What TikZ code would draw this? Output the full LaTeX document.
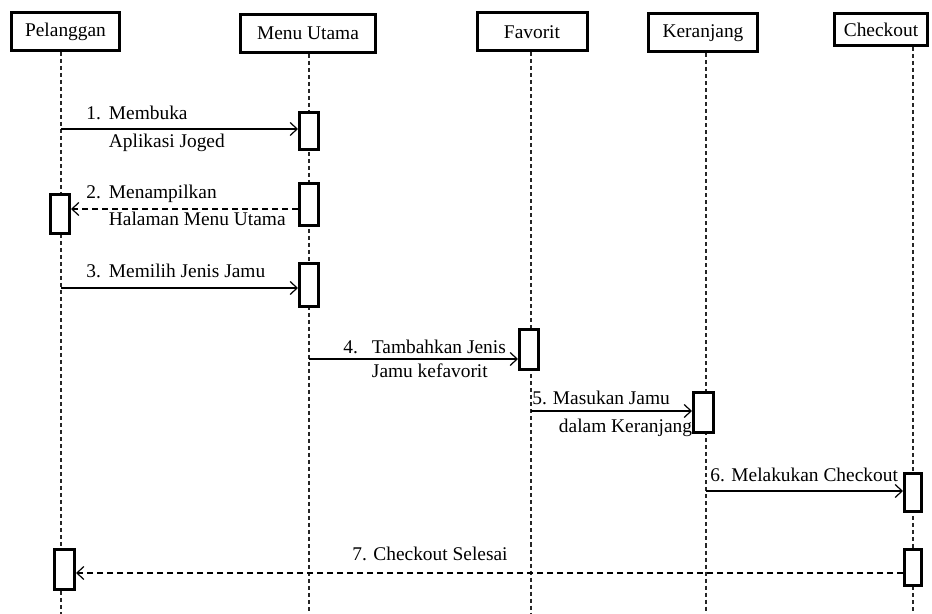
\documentclass[tikz,border=0pt]{standalone}
\usepackage{fontspec}
\setmainfont{Liberation Serif}
\usetikzlibrary{arrows.meta,positioning}
\tikzset{object head/.style={draw, line width=1.5pt, minimum height=19pt,
    inner sep=0pt, font=\fontsize{9.7}{11.6}\selectfont}}
\tikzset{activation/.style={draw, fill=white, line width=1.5pt,
    minimum width=9.5pt, minimum height=#1, inner sep=0pt}}
\tikzset{lifeline/.style={draw=black!85, line width=0.6pt, dash pattern=on 2pt off 1.5pt}}
\tikzset{call/.style={draw, line width=0.6pt, -{Straight Barb[length=3.5pt,width=6.5pt]}}}
\tikzset{reply/.style={call, dash pattern=on 3pt off 2pt}}
\tikzset{msg label/.style={anchor=base west, inner sep=0pt, font=\fontsize{9.7}{#1}\selectfont}}
\newcommand{\steptext}[3][4pt]{\begin{tabular}[t]{@{}l@{\hspace{#1}}l@{}}#2 & #3\end{tabular}}

\begin{document}
\begin{tikzpicture}[x=0.5pt, y=-0.5pt]
  \useasboundingbox (0,0) rectangle (932,614);

  % objects
  \node [object head, minimum width=54pt]   (pel) at ( 65.5, 31.5) {Pelanggan};
  \node [object head, minimum width=67.5pt] (mu)  at (308,   33.5) {Menu Utama};
  \node [object head, minimum width=55pt]   (fav) at (532,   32)   {Favorit};
  \node [object head, minimum width=54.5pt] (ker) at (703,   33)   {Keranjang};
  \node [object head, minimum width=46.5pt, minimum height=16pt]
                                            (chk) at (881,   29.5) {Checkout};

  \coordinate (pel end) at ( 61, 614);
  \coordinate (mu end)  at (309, 614);
  \coordinate (fav end) at (531, 614);
  \coordinate (ker end) at (706, 614);
  \coordinate (chk end) at (913, 614);

  \draw [lifeline] (pel.south -| pel end) -- (pel end);
  \draw [lifeline] (mu.south  -| mu end)  -- (mu end);
  \draw [lifeline] (fav.south -| fav end) -- (fav end);
  \draw [lifeline] (ker.south -| ker end) -- (ker end);
  \draw [lifeline] (chk.south -| chk end) -- (chk end);

  % activations
  \node [activation=18.5pt]                  (mu1)  at (309,   131)   {};
  \node [activation=21pt]                    (mu2)  at (309,   204.5) {};
  \node [activation=19.5pt]                  (pel1) at ( 60,   214)   {};
  \node [activation=21.5pt]                  (mu3)  at (309,   285)   {};
  \node [activation=20pt]                    (fav1) at (529,   349.5) {};
  \node [activation=20pt, minimum width=10pt] (ker1) at (703.5, 412.5) {};
  \node [activation=19pt, minimum width=8.5pt] (chk1) at (913, 492.5) {};
  \node [activation=18pt, minimum width=8.5pt] (chk2) at (913, 567.5) {};
  \node [activation=20pt, minimum width=10pt] (pel2) at ( 64.5, 569.5) {};

  % messages
  \draw [call]  (pel end |- 0,129) -- (mu1.west |- 0,129);
  \draw [reply] (mu2.west |- 0,209) -- (pel1.east |- 0,209);
  \draw [call]  (pel end |- 0,288) -- (mu3.west |- 0,288);
  \draw [call]  (mu end  |- 0,359) -- (fav1.west |- 0,359);
  \draw [call]  (fav end |- 0,411) -- (ker1.west |- 0,411);
  \draw [call]  (ker end |- 0,491) -- (chk1.west |- 0,491);
  \draw [reply] (chk2.west |- 0,573) -- (pel2.east |- 0,573);

  \node [msg label=14pt]   (lab1) at ( 86, 120) {\steptext{1.}{Membuka\\ & Aplikasi Joged}};
  \node [msg label=13.5pt] (lab2) at ( 86, 199) {\steptext{2.}{Menampilkan\\ & Halaman Menu Utama}};
  \node [msg label=12pt]   (lab3) at ( 86, 278) {\steptext{3.}{Memilih Jenis Jamu}};
  \node [msg label=12pt]   (lab4) at (343, 354) {\steptext[7pt]{4.}{Tambahkan Jenis\\ & Jamu kefavorit}};
  \node [msg label=14pt]   (lab5) at (532, 405) {\steptext[3pt]{5.}{Masukan Jamu\\ & \hspace*{3pt}dalam Keranjang}};
  \node [msg label=12pt]   (lab6) at (710, 482) {6. Melakukan Checkout};
  \node [msg label=12pt]   (lab7) at (352, 560) {7. Checkout Selesai};
\end{tikzpicture}
\end{document}
